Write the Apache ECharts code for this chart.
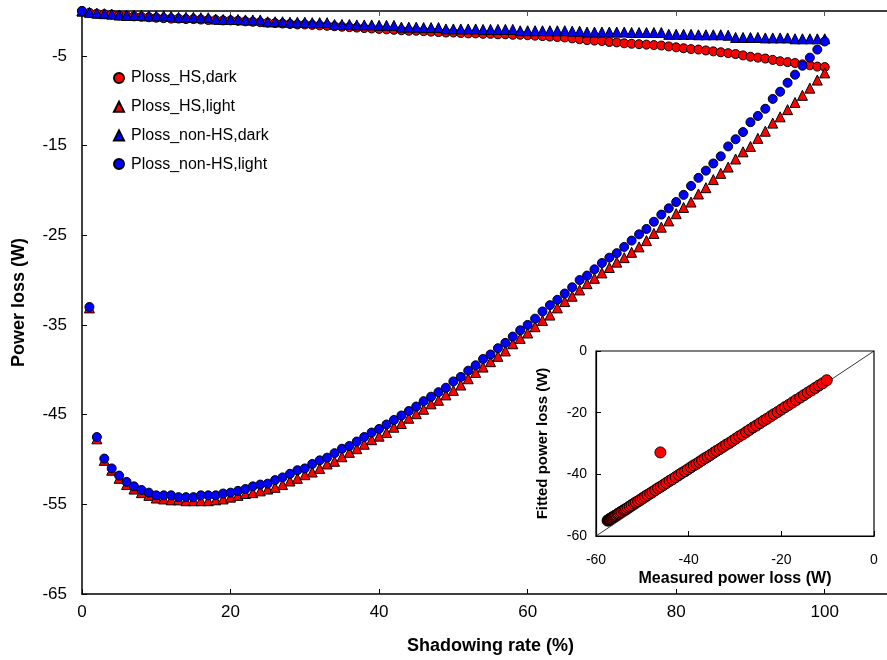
<!DOCTYPE html>
<html>
<head>
<meta charset="utf-8">
<script src="https://cdn.jsdelivr.net/npm/echarts@6/dist/echarts.min.js"></script>
<style>
html,body{margin:0;padding:0;background:#fff;}
#chart{width:887px;height:660px;}
</style>
</head>
<body>
<div id="chart"></div>
<script>
// Shadowing rate (%)
var shadowingRate = [0,1,2,3,4,5,6,7,8,9,10,11,12,13,14,15,16,17,18,19,20,21,22,23,24,25,26,27,28,29,30,31,32,33,34,35,36,37,38,39,40,41,42,43,44,45,46,47,48,49,50,51,52,53,54,55,56,57,58,59,60,61,62,63,64,65,66,67,68,69,70,71,72,73,74,75,76,77,78,79,80,81,82,83,84,85,86,87,88,89,90,91,92,93,94,95,96,97,98,99,100];

var plossHSDark = [0,-0.2,-0.3,-0.35,-0.4,-0.5,-0.55,-0.6,-0.65,-0.7,-0.75,-0.8,-0.85,-0.85,-0.9,-0.9,-0.95,-1.0,-1.0,-1.05,-1.05,-1.1,-1.15,-1.2,-1.25,-1.3,-1.35,-1.4,-1.45,-1.5,-1.5,-1.55,-1.6,-1.65,-1.7,-1.75,-1.8,-1.85,-1.9,-1.95,-2.0,-2.05,-2.1,-2.15,-2.2,-2.2,-2.25,-2.3,-2.35,-2.4,-2.4,-2.45,-2.5,-2.5,-2.55,-2.55,-2.6,-2.6,-2.65,-2.65,-2.7,-2.75,-2.8,-2.85,-2.9,-2.95,-3.05,-3.15,-3.25,-3.3,-3.35,-3.45,-3.5,-3.6,-3.65,-3.7,-3.75,-3.8,-3.85,-3.95,-4.05,-4.15,-4.25,-4.3,-4.4,-4.5,-4.6,-4.7,-4.8,-4.95,-5.1,-5.2,-5.3,-5.45,-5.6,-5.7,-5.8,-5.95,-6.05,-6.2,-6.25];

var plossHSLight = [0,-33.1,-47.7,-50.1,-51.2,-52.1,-52.8,-53.3,-53.7,-54.0,-54.3,-54.4,-54.5,-54.5,-54.6,-54.6,-54.6,-54.6,-54.5,-54.4,-54.2,-54.0,-53.8,-53.7,-53.5,-53.3,-53.1,-52.8,-52.4,-52.1,-51.7,-51.4,-51.0,-50.5,-50.2,-49.7,-49.2,-48.8,-48.3,-47.8,-47.4,-47.0,-46.4,-46.0,-45.4,-44.9,-44.4,-43.8,-43.4,-42.8,-42.3,-41.7,-41.0,-40.3,-39.7,-39.1,-38.5,-37.9,-37.1,-36.5,-35.9,-35.2,-34.5,-33.9,-33.1,-32.4,-31.8,-31.1,-30.4,-29.8,-29.2,-28.6,-28.0,-27.5,-26.9,-26.3,-25.6,-24.8,-24.1,-23.4,-22.6,-21.9,-21.3,-20.4,-19.7,-18.8,-18.1,-17.4,-16.5,-15.7,-15.1,-14.2,-13.4,-12.5,-11.8,-11.0,-10.2,-9.4,-8.6,-7.7,-6.9];

var plossNonHSDark = [0,-0.15,-0.25,-0.3,-0.35,-0.45,-0.5,-0.5,-0.5,-0.55,-0.55,-0.55,-0.6,-0.7,-0.7,-0.7,-0.75,-0.75,-0.9,-0.95,-0.95,-0.95,-1.0,-1.0,-1.0,-1.2,-1.2,-1.2,-1.25,-1.25,-1.25,-1.3,-1.3,-1.3,-1.5,-1.5,-1.5,-1.55,-1.55,-1.55,-1.6,-1.6,-1.6,-1.8,-1.8,-1.8,-1.85,-1.85,-1.85,-2.0,-2.0,-2.0,-2.0,-2.0,-2.05,-2.05,-2.05,-2.05,-2.05,-2.2,-2.2,-2.2,-2.2,-2.2,-2.2,-2.2,-2.25,-2.25,-2.35,-2.35,-2.35,-2.35,-2.35,-2.35,-2.4,-2.4,-2.4,-2.4,-2.4,-2.6,-2.6,-2.6,-2.6,-2.65,-2.65,-2.65,-2.65,-2.7,-2.95,-2.95,-2.95,-2.95,-3.0,-3.0,-3.0,-3.0,-3.1,-3.1,-3.1,-3.1,-3.1];

var plossNonHSLight = [0,-33.0,-47.5,-49.9,-51.0,-51.8,-52.5,-53.0,-53.4,-53.7,-54.0,-54.0,-54.0,-54.2,-54.2,-54.2,-54.0,-54.0,-54.0,-53.8,-53.7,-53.5,-53.3,-53.0,-52.8,-52.7,-52.3,-52.0,-51.6,-51.2,-51.0,-50.5,-50.1,-49.8,-49.3,-48.8,-48.5,-48.0,-47.5,-47.0,-46.6,-46.1,-45.6,-45.1,-44.6,-44.1,-43.5,-43.0,-42.5,-42.0,-41.3,-40.8,-40.1,-39.5,-38.8,-38.3,-37.6,-37.0,-36.3,-35.6,-35.0,-34.3,-33.5,-32.8,-32.2,-31.5,-30.8,-30.0,-29.5,-28.8,-28.1,-27.5,-27.0,-26.3,-25.6,-24.9,-24.3,-23.5,-22.7,-22.0,-21.3,-20.5,-19.5,-18.6,-17.8,-17.0,-16.2,-15.1,-14.3,-13.5,-12.4,-11.7,-10.9,-9.8,-9.0,-8.0,-7.1,-6.1,-5.2,-4.3,-3.4];

var mainYTicks = [-65,-55,-45,-35,-25,-15,-5];

// Inset: measured vs fitted power loss (W)
var measuredLoss = [-57.5,-57.4,-57.3,-57.3,-57.2,-57.1,-57.0,-56.9,-56.8,-56.6,-56.5,-56.3,-56.2,-56.0,-55.8,-55.6,-55.3,-55.1,-54.8,-54.5,-54.1,-53.8,-53.5,-53.1,-52.7,-52.3,-51.8,-51.4,-50.9,-50.4,-49.9,-49.4,-48.9,-48.3,-47.8,-47.2,-46.6,-46.0,-45.4,-44.8,-44.1,-43.5,-42.8,-42.1,-41.5,-40.8,-40.2,-39.5,-38.9,-38.3,-37.7,-37.1,-36.5,-35.9,-35.3,-34.6,-34.0,-33.3,-32.6,-31.9,-31.2,-30.5,-29.8,-29.1,-28.4,-27.6,-26.9,-26.1,-25.4,-24.6,-23.8,-23.1,-22.3,-21.6,-20.8,-20.0,-19.2,-18.4,-17.6,-16.8,-15.9,-15.1,-14.3,-13.5,-12.7,-11.9,-11.1,-10.2,-46.1];
var fittedLoss = [-55.0,-54.9,-54.8,-54.9,-54.7,-54.7,-54.5,-54.5,-54.3,-54.1,-54.1,-53.9,-53.7,-53.6,-53.4,-53.2,-52.9,-52.7,-52.4,-52.1,-51.7,-51.5,-51.2,-50.8,-50.4,-50.0,-49.5,-49.1,-48.7,-48.2,-47.7,-47.2,-46.7,-46.2,-45.7,-45.1,-44.5,-44.0,-43.4,-42.8,-42.1,-41.6,-40.9,-40.2,-39.6,-39.0,-38.4,-37.7,-37.1,-36.6,-36.0,-35.4,-34.8,-34.3,-33.7,-33.0,-32.4,-31.8,-31.1,-30.4,-29.8,-29.1,-28.4,-27.7,-27.1,-26.3,-25.6,-24.8,-24.2,-23.4,-22.6,-22.0,-21.2,-20.5,-19.8,-19.0,-18.2,-17.5,-16.7,-15.9,-15.1,-14.3,-13.5,-12.8,-12.0,-11.2,-10.5,-9.5,-32.9];
var diagonalLine = [[-60,-60],[0,0]];

function pairs(xs, ys){ var out=[]; for(var i=0;i<ys.length;i++){ out.push([xs[i], ys[i]]); } return out; }

var FONT = 'Liberation Sans, Arial, sans-serif';
var chart = echarts.init(document.getElementById('chart'), null, {renderer:'canvas'});

var mainMarker = function(color){ return {color: color, borderColor:'#000', borderWidth:1, opacity:1}; };

var option = {
  animation: false,
  backgroundColor: '#fff',
  textStyle: {fontFamily: FONT, color:'#000'},
  legend: {
    orient: 'vertical',
    left: 108, top: 65,
    itemWidth: 10, itemHeight: 10,
    itemGap: 12.7,
    textStyle: {fontFamily: FONT, fontSize: 16, color:'#000', padding:[0,0,0,2]},
    data: [
      {name:'Ploss_HS,dark', icon:'circle'},
      {name:'Ploss_HS,light', icon:'triangle'},
      {name:'Ploss_non-HS,dark', icon:'triangle'},
      {name:'Ploss_non-HS,light', icon:'circle'}
    ]
  },
  grid: [
    {left: 82, top: 11, right: -12, bottom: 66, outerBoundsMode: 'none', containLabel: false},
    {left: 596, top: 351, width: 278, height: 185, outerBoundsMode: 'none', containLabel: false,
     show: true, borderColor:'#000', borderWidth: 1.2, backgroundColor: 'transparent'}
  ],
  xAxis: [
    {type:'value', gridIndex:0, min:0, max:110, interval:20, position:'bottom',
     name:'Shadowing rate (%)', nameLocation:'middle', nameGap:43,
     nameTextStyle:{fontFamily:FONT, fontSize:18, fontWeight:'bold', color:'#000'},
     axisLine:{show:true, onZero:false, lineStyle:{color:'#000', width:1.5}},
     axisTick:{show:true, inside:true, length:5, lineStyle:{color:'#000'}},
     axisLabel:{fontFamily:FONT, fontSize:17, color:'#000', margin:10, showMaxLabel:false},
     splitLine:{show:false}},
    {type:'value', gridIndex:0, min:0, max:110, interval:20, position:'top',
     axisLine:{show:true, onZero:false, lineStyle:{color:'#000', width:1.5}},
     axisTick:{show:true, inside:true, length:5, lineStyle:{color:'#555'}},
     axisLabel:{show:false}, splitLine:{show:false}},
    {type:'value', gridIndex:1, min:-60, max:0, interval:20,
     name:'Measured power loss (W)', nameLocation:'middle', nameGap:35,
     nameTextStyle:{fontFamily:FONT, fontSize:16, fontWeight:'bold', color:'#000'},
     axisLine:{show:true, onZero:false, lineStyle:{color:'#000', width:1.2}},
     axisTick:{show:true, inside:true, length:5, lineStyle:{color:'#000'}},
     axisLabel:{fontFamily:FONT, fontSize:14, color:'#000', margin:17},
     splitLine:{show:false}}
  ],
  yAxis: [
    {type:'value', gridIndex:0, min:-65, max:0,
     name:'Power loss (W)', nameLocation:'middle', nameGap:54, nameRotate:90,
     nameTextStyle:{fontFamily:FONT, fontSize:18, fontWeight:'bold', color:'#000'},
     axisLine:{show:true, onZero:false, lineStyle:{color:'#000', width:1.5}},
     axisTick:{show:true, inside:true, length:5, customValues: mainYTicks, lineStyle:{color:'#000'}},
     axisLabel:{fontFamily:FONT, fontSize:17, color:'#000', margin:15, customValues: mainYTicks},
     splitLine:{show:false}},
    {type:'value', gridIndex:1, min:-60, max:0, interval:20,
     name:'Fitted power loss (W)', nameLocation:'middle', nameGap:46, nameRotate:90,
     nameTextStyle:{fontFamily:FONT, fontSize:15, fontWeight:'bold', color:'#000'},
     axisLine:{show:true, onZero:false, lineStyle:{color:'#000', width:1.2}},
     axisTick:{show:true, inside:true, length:5, lineStyle:{color:'#000'}},
     axisLabel:{fontFamily:FONT, fontSize:14, color:'#000', margin:9},
     splitLine:{show:false}}
  ],
  series: [
    {name:'Ploss_HS,dark', type:'scatter', xAxisIndex:0, yAxisIndex:0, symbol:'circle', symbolSize:9,
     itemStyle: mainMarker('#ff0000'), data: pairs(shadowingRate, plossHSDark), z:2},
    {name:'Ploss_HS,light', type:'scatter', xAxisIndex:0, yAxisIndex:0, symbol:'triangle', symbolSize:10,
     itemStyle: mainMarker('#ff0000'), data: pairs(shadowingRate, plossHSLight), z:2},
    {name:'Ploss_non-HS,dark', type:'scatter', xAxisIndex:0, yAxisIndex:0, symbol:'triangle', symbolSize:10,
     itemStyle: mainMarker('#0000ff'), data: pairs(shadowingRate, plossNonHSDark), z:3},
    {name:'Ploss_non-HS,light', type:'scatter', xAxisIndex:0, yAxisIndex:0, symbol:'circle', symbolSize:9,
     itemStyle: mainMarker('#0000ff'), data: pairs(shadowingRate, plossNonHSLight), z:3},
    {name:'diag', type:'line', xAxisIndex:2, yAxisIndex:1, data: diagonalLine, symbol:'none',
     lineStyle:{color:'#000', width:0.8}, z:1, silent:true},
    {name:'fit', type:'scatter', xAxisIndex:2, yAxisIndex:1, symbol:'circle', symbolSize:11,
     itemStyle: mainMarker('#ff0000'), data: pairs(measuredLoss, fittedLoss), z:2}
  ]
};
chart.setOption(option);
</script>
</body>
</html>
